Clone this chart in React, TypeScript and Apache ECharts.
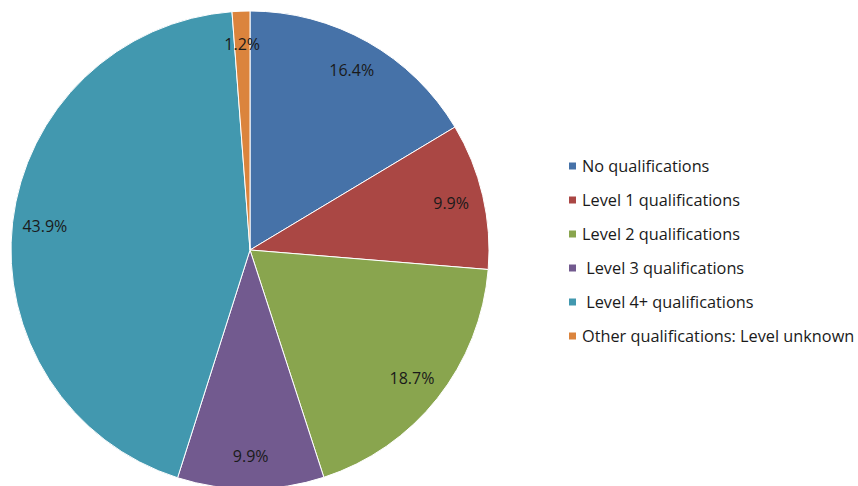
import React, { useEffect, useRef } from "react";
import * as echarts from "echarts";

const categories = [
  "No qualifications",
  "Level 1 qualifications",
  "Level 2 qualifications",
  " Level 3 qualifications",
  " Level 4+ qualifications",
  "Other qualifications: Level unknown",
];
const values = [16.4, 9.9, 18.7, 9.9, 43.9, 1.2];
const colors = ["#4672A8", "#AA4744", "#89A54E", "#725A8F", "#4298AF", "#DB843D"];

export default function App() {
  const ref = useRef<HTMLDivElement>(null);
  useEffect(() => {
    if (!ref.current) return;
    const chart = echarts.init(ref.current, undefined, { renderer: "svg" });
    const data = categories.map((name, i) => ({ name, value: values[i] }));
    chart.setOption({
      animation: false,
      color: colors,
      legend: {
        orient: "vertical",
        left: 562,
        top: 153,
        itemWidth: 9,
        itemHeight: 9,
        itemGap: 18,
        icon: "rect",
        data: categories,
        textStyle: { fontFamily: "Open Sans", fontSize: 16.3, color: "#1a1a1a", lineHeight: 16 },
      },
      series: [
        {
          type: "pie",
          center: [250, 250],
          radius: [0, 239],
          startAngle: 90,
          clockwise: true,
          data,
          label: { show: false },
          labelLine: { show: false },
          itemStyle: { borderColor: "#fff", borderWidth: 1 },
          emphasis: { disabled: true },
        },
        {
          type: "pie",
          center: [250, 250],
          radius: [168, 239],
          startAngle: 90,
          clockwise: true,
          silent: true,
          data,
          legendHoverLink: false,
          itemStyle: { color: "rgba(0,0,0,0)", borderWidth: 0 },
          label: {
            show: true,
            position: "inside",
            formatter: (p: any) => p.value.toFixed(1) + "%",
            fontFamily: "Open Sans",
            fontSize: 16,
            color: "#1a1a1a",
          },
          labelLine: { show: false },
          emphasis: { disabled: true },
        },
      ],
    });
    return () => chart.dispose();
  }, []);
  return (
    <div
      ref={ref}
      style={{ position: "absolute", left: 0, top: 0, width: 858, height: 486, background: "#fff" }}
    />
  );
}
